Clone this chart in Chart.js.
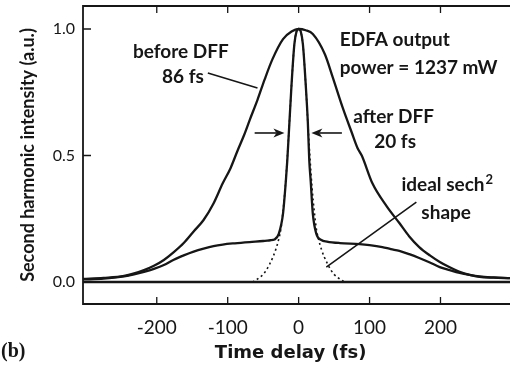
<!DOCTYPE html>
<html>
<head>
<meta charset="utf-8">
<script src="https://cdn.jsdelivr.net/npm/chart.js@4/dist/chart.umd.min.js"></script>
<style>
  html, body { margin: 0; padding: 0; background: #fff; }
  #chart { display: block; }
</style>
</head>
<body>
<canvas id="chart" width="510" height="368"></canvas>
<script>
// --- Datos ---
const xTicks = [-200, -100, 0, 100, 200];
const yTicks = [0.0, 0.5, 1.0];

// Autocorrelación antes del DFF (86 fs)
const beforeX = [-304, -275, -246, -218, -204, -190, -176, -162, -148, -134, -120, -107, -96, -86, -77, -69, -58, -48, -37, -22, -10, 0,
                 10, 20, 37, 48, 62, 75, 83, 89, 104, 124, 142, 156, 170, 185, 199, 213, 227, 241, 255, 275, 298];
const beforeY = [0.012, 0.016, 0.024, 0.047, 0.064, 0.087, 0.118, 0.154, 0.20, 0.245, 0.31, 0.39, 0.45, 0.52, 0.58, 0.64, 0.72, 0.80, 0.88, 0.96, 0.99, 1.0,
                 0.995, 0.98, 0.90, 0.81, 0.69, 0.59, 0.53, 0.50, 0.39, 0.30, 0.233, 0.18, 0.138, 0.105, 0.079, 0.058, 0.04, 0.028, 0.02, 0.017, 0.015];

// Autocorrelación después del DFF (20 fs) con pedestal
const afterX = [-304, -275, -246, -232, -218, -204, -190, -176, -162, -148, -134, -120, -107, -90, -69, -50, -40, -34, -28, -22, -18, -16, -13, -10, -6, -3, 0,
                3, 6, 10, 13, 15, 17, 20, 25, 32, 40, 58, 86, 100, 118, 130, 142, 156, 170, 185, 199, 213, 227, 241, 255, 275, 298];
const afterY = [0.010, 0.013, 0.022, 0.03, 0.04, 0.052, 0.067, 0.088, 0.105, 0.12, 0.132, 0.142, 0.148, 0.153, 0.158, 0.162, 0.165, 0.168, 0.19, 0.27, 0.40, 0.48, 0.63, 0.78, 0.94, 0.99, 1.0,
                0.99, 0.94, 0.78, 0.63, 0.48, 0.40, 0.27, 0.19, 0.166, 0.16, 0.154, 0.15, 0.146, 0.138, 0.13, 0.123, 0.11, 0.095, 0.077, 0.059, 0.047, 0.036, 0.028, 0.022, 0.018, 0.015];

// Ajuste sech² ideal (punteado)
const sechX = [-65, -60, -55, -50, -46, -41, -36, -32, -28, -25, -22, -19, -16, -13, -10, -6, -3, 0, 3, 6, 10, 13, 16, 19, 22, 25, 28, 32, 36, 41, 46, 50, 55, 60, 65];
const sechY = [0.0, 0.008, 0.018, 0.03, 0.045, 0.07, 0.10, 0.13, 0.17, 0.21, 0.28, 0.37, 0.49, 0.63, 0.78, 0.94, 0.99, 1.0, 0.99, 0.94, 0.78, 0.63, 0.49, 0.37, 0.28, 0.21, 0.17, 0.13, 0.10, 0.07, 0.045, 0.03, 0.018, 0.008, 0.0];

// Línea de base
const baseX = [-304, 298];
const baseY = [0, 0];

const INK = '#161616';
const toPoints = (xs, ys) => xs.map((x, i) => ({ x: x, y: ys[i] }));

// --- Plugin: marco, marcas hacia adentro, textos y flechas ---
const decorPlugin = {
    id: 'decor',
    afterDraw(chart) {
        const ctx = chart.ctx;
        const area = chart.chartArea;
        const xs = chart.scales.x;
        const ys = chart.scales.y;
        const px = v => xs.getPixelForValue(v);
        const py = v => ys.getPixelForValue(v);

        ctx.save();
        ctx.strokeStyle = INK;
        ctx.fillStyle = INK;

        // marco
        ctx.lineWidth = 1.8;
        ctx.beginPath();
        ctx.moveTo(area.right, area.top);
        ctx.lineTo(area.left, area.top);
        ctx.lineTo(area.left, area.bottom);
        ctx.lineTo(area.right, area.bottom);
        ctx.stroke();

        // marcas
        ctx.lineWidth = 1.3;
        ctx.beginPath();
        xTicks.forEach(v => {
            ctx.moveTo(px(v), area.bottom);
            ctx.lineTo(px(v), area.bottom - 7);
            ctx.moveTo(px(v), area.top);
            ctx.lineTo(px(v), area.top + 7);
        });
        yTicks.forEach(v => {
            ctx.moveTo(area.left, py(v));
            ctx.lineTo(area.left + 8, py(v));
        });
        ctx.stroke();

        // líneas guía de las etiquetas
        ctx.lineWidth = 1.6;
        ctx.beginPath();
        ctx.moveTo(px(-128), py(0.826));
        ctx.lineTo(px(-58), py(0.767));
        ctx.moveTo(px(166), py(0.316));
        ctx.lineTo(px(39), py(0.059));
        ctx.stroke();

        // flechas del ancho
        const arrow = (x0, x1, y) => {
            const a = px(x0), b = px(x1), yy = py(y);
            const dir = Math.sign(b - a);
            ctx.lineWidth = 1.6;
            ctx.beginPath();
            ctx.moveTo(a, yy);
            ctx.lineTo(b - dir * 8, yy);
            ctx.stroke();
            ctx.beginPath();
            ctx.moveTo(b, yy);
            ctx.lineTo(b - dir * 11, yy - 4.5);
            ctx.lineTo(b - dir * 8, yy);
            ctx.lineTo(b - dir * 11, yy + 4.5);
            ctx.closePath();
            ctx.fill();
        };
        arrow(-62, -20, 0.589);
        arrow(61, 18, 0.589);

        // anotaciones
        ctx.textBaseline = 'middle';
        ctx.font = 'bold 19px Lato';
        ctx.textAlign = 'center';
        ctx.fillText('before DFF', px(-166), py(0.91));
        ctx.fillText('86 fs', px(-163), py(0.81));
        ctx.fillText('after DFF', px(134), py(0.652));
        ctx.fillText('20 fs', px(136), py(0.553));
        ctx.fillText('shape', px(208), py(0.273));
        ctx.textAlign = 'left';
        ctx.fillText('EDFA output', px(58), py(0.957));
        ctx.fillText('power = 1237 mW', px(58), py(0.846));
        const sechLabel = 'ideal sech';
        ctx.fillText(sechLabel, px(145), py(0.383));
        const w = ctx.measureText(sechLabel).width;
        ctx.font = 'bold 13px Lato';
        ctx.fillText('2', px(145) + w + 1, py(0.383) - 5);

        // títulos de ejes
        ctx.font = 'bold 18px "DejaVu Sans"';
        ctx.textAlign = 'center';
        ctx.fillText('Time delay (fs)', px(0) - 8, 353);
        ctx.save();
        ctx.translate(28, (area.top + area.bottom) / 2);
        ctx.rotate(-Math.PI / 2);
        ctx.font = 'bold 18px Lato';
        ctx.fillText('Second harmonic intensity (a.u.)', 0, 0);
        ctx.restore();

        ctx.font = 'bold 20px "Liberation Serif"';
        ctx.textAlign = 'left';
        ctx.fillText('(b)', 1, 352);
        ctx.restore();
    }
};

document.addEventListener('DOMContentLoaded', () => {
    const canvas = document.getElementById('chart');
    const line = (data, extra) => Object.assign({
        data: data,
        borderColor: INK,
        borderWidth: 2.3,
        pointRadius: 0,
        fill: false,
        cubicInterpolationMode: 'monotone'
    }, extra || {});

    new Chart(canvas.getContext('2d'), {
        type: 'line',
        data: {
            datasets: [
                line(toPoints(baseX, baseY), { borderWidth: 2.4 }),
                line(toPoints(beforeX, beforeY)),
                line(toPoints(afterX, afterY)),
                line(toPoints(sechX, sechY), { borderWidth: 1.6, borderDash: [2, 3] })
            ]
        },
        options: {
            responsive: false,
            animation: false,
            devicePixelRatio: 1,
            layout: { padding: { top: 6, right: 0, left: 0, bottom: 0 } },
            plugins: { legend: { display: false }, tooltip: { enabled: false } },
            scales: {
                x: {
                    type: 'linear',
                    min: -304,
                    max: 298,
                    grid: { display: false, drawTicks: false },
                    border: { display: false },
                    ticks: { color: INK, font: { family: 'Lato', size: 19 }, padding: 12, maxRotation: 0 },
                    afterBuildTicks: scale => { scale.ticks = xTicks.map(v => ({ value: v })); },
                    afterFit: scale => {
                        scale.height = 64;
                        scale.paddingLeft = 0;
                        scale.paddingRight = 0;
                    }
                },
                y: {
                    type: 'linear',
                    min: -0.087,
                    max: 1.091,
                    grid: { display: false, drawTicks: false },
                    border: { display: false },
                    ticks: {
                        color: INK,
                        font: { family: 'Lato', size: 16 },
                        padding: 8,
                        callback: v => v.toFixed(1)
                    },
                    afterBuildTicks: scale => { scale.ticks = yTicks.map(v => ({ value: v })); },
                    afterFit: scale => {
                        scale.width = 83;
                        scale.paddingTop = 0;
                        scale.paddingBottom = 0;
                    }
                }
            }
        },
        plugins: [decorPlugin]
    });
});
</script>
</body>
</html>
